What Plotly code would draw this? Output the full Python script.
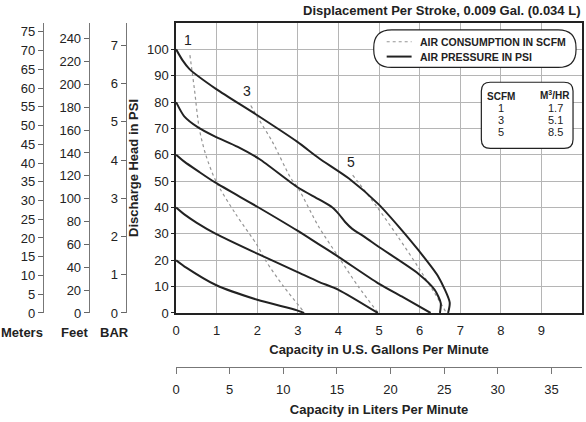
import plotly.graph_objects as go

# pump curves (x = US gal/min, y = psi)
p100_x = [0, 0.16, 0.33, 0.98, 2.0, 2.98, 3.52, 4.25, 4.99, 5.5, 5.96, 6.45, 6.74, 6.7]
p100_y = [100, 95.8, 92.5, 85, 75, 65, 58.7, 51.1, 41.2, 32.5, 24, 14, 4, 0]
p80_x = [0, 0.2, 0.54, 0.95, 1.52, 2.05, 3.0, 3.52, 3.85, 4.01, 4.17, 4.34, 4.66,
         4.98, 5.96, 6.37, 6.52, 6.5]
p80_y = [80, 74.6, 70.4, 67, 63, 58.4, 47.6, 43.1, 40, 37.5, 34.4, 31.9, 28.7,
         25.2, 15, 8.8, 3.75, 0]
p60_x = [0, 0.21, 0.54, 0.95, 2.0, 2.98, 3.5, 4.0, 4.98, 5.6, 6.27]
p60_y = [60, 57.3, 53.8, 49.6, 40.3, 31.3, 26.2, 21.3, 11.25, 5.9, 0]
p40_x = [0, 0.22, 0.5, 0.98, 2.0, 2.98, 3.5, 4.0, 4.97]
p40_y = [40, 37.2, 34.3, 30, 22.5, 15.6, 11.9, 8.8, 0]
p20_x = [0, 0.25, 0.98, 2.0, 2.98, 3.15]
p20_y = [20, 17.2, 10.6, 5, 1, 0]

# air consumption (SCFM) lines
a1_x = [0.34, 0.45, 0.57, 0.73, 0.98, 1.47, 2.0, 2.2, 2.65, 3.17]
a1_y = [97.8, 85, 70, 60, 50, 37.5, 25.6, 20, 10, 0]
a3_x = [1.84, 2.0, 2.37, 2.82, 3.02, 3.51, 4.0, 4.49, 4.98]
a3_y = [78.7, 74.4, 65, 51.3, 47, 32.8, 21.3, 10, 0]
a5_x = [4.35, 4.94, 5.47, 5.96, 6.37, 6.66]
a5_y = [52.3, 40.4, 28.8, 17.5, 7.5, 0]

scfm = ["1", "3", "5"]
m3hr = ["1.7", "5.1", "8.5"]

PSI_MAX = 110
GPM_MAX = 10
PSI_TO_M = 0.70307
PSI_TO_FT = 2.3067
PSI_TO_BAR = 0.068948
GAL_TO_L = 3.78541

FONT = "Liberation Sans, Arial, sans-serif"
INK = "#222222"
W, H = 586, 422
ML, MR, MT, MB = 10, 2, 23, 5
PW, PH = W - ML - MR, H - MT - MB

# pixel helpers (layout only)
def fx(px):
    return (px - ML) / PW

def fy(py):
    return (H - MB - py) / PH

X0, X1 = 176.7, 584
Y0, Y1 = 316.7, 23

def dx(px):
    return (px - X0) / (X1 - X0) * GPM_MAX

def dy(py):
    return (Y0 - py) / (Y0 - Y1) * PSI_MAX

def rounded(x0, y0, x1, y1, r):
    pts = [
        ("M", x0 + r, y0), ("L", x1 - r, y0), ("Q", x1, y0, x1, y0 + r),
        ("L", x1, y1 - r), ("Q", x1, y1, x1 - r, y1), ("L", x0 + r, y1),
        ("Q", x0, y1, x0, y1 - r), ("L", x0, y0 + r), ("Q", x0, y0, x0 + r, y0),
    ]
    out = ""
    for p in pts:
        if p[0] == "Q":
            out += "Q{},{} {},{} ".format(dx(p[1]), dy(p[2]), dx(p[3]), dy(p[4]))
        else:
            out += "{}{},{} ".format(p[0], dx(p[1]), dy(p[2]))
    return out + "Z"

fig = go.Figure()

for xs, ys in [(a1_x, a1_y), (a3_x, a3_y), (a5_x, a5_y)]:
    fig.add_trace(go.Scatter(
        x=xs, y=ys, mode="lines", line=dict(color="#959595", width=1.2, dash="dot",
                                            shape="spline", smoothing=0.8),
        hoverinfo="skip", showlegend=False))

for xs, ys in [(p100_x, p100_y), (p80_x, p80_y), (p60_x, p60_y), (p40_x, p40_y), (p20_x, p20_y)]:
    fig.add_trace(go.Scatter(
        x=xs, y=ys, mode="lines", line=dict(color=INK, width=2, shape="spline", smoothing=0.7),
        hoverinfo="skip", showlegend=False))

# invisible copies so the secondary scales get drawn
fig.add_trace(go.Scatter(x=p100_x, y=[v * PSI_TO_M for v in p100_y], yaxis="y2",
                         mode="lines", opacity=0, hoverinfo="skip", showlegend=False))
fig.add_trace(go.Scatter(x=p100_x, y=[v * PSI_TO_FT for v in p100_y], yaxis="y3",
                         mode="lines", opacity=0, hoverinfo="skip", showlegend=False))
fig.add_trace(go.Scatter(x=p100_x, y=[v * PSI_TO_BAR for v in p100_y], yaxis="y4",
                         mode="lines", opacity=0, hoverinfo="skip", showlegend=False))
fig.add_trace(go.Scatter(x=[v * GAL_TO_L for v in p100_x], y=p100_y, xaxis="x2",
                         mode="lines", opacity=0, hoverinfo="skip", showlegend=False))

xdom = [fx(X0), 1]
ydom = [fy(Y0), 1]
tickfont = dict(family=FONT, size=13, color=INK)
titlefont = dict(family=FONT, size=13, color=INK)
side_axis = dict(overlaying="y", anchor="free", side="left", domain=ydom, showgrid=False,
                 zeroline=False, showline=True, linecolor="#777", linewidth=1,
                 ticks="outside", ticklen=5, tickcolor="#666", tickfont=tickfont)

fig.update_layout(
    width=W, height=H,
    margin=dict(l=ML, r=MR, t=MT, b=MB),
    paper_bgcolor="white", plot_bgcolor="white",
    font=dict(family=FONT, color=INK),
    xaxis=dict(domain=xdom, range=[0, GPM_MAX], tickvals=list(range(10)),
               showgrid=True, gridcolor="#b5b5b5", gridwidth=1, zeroline=False,
               showline=True, mirror=True, linecolor=INK, linewidth=1.5,
               ticks="", tickfont=tickfont, ticklabelstandoff=5,
               title=dict(text="<b>Capacity in U.S. Gallons Per Minute</b>",
                          font=titlefont, standoff=8)),
    yaxis=dict(domain=ydom, range=[0, PSI_MAX], tickvals=list(range(0, 101, 10)),
               showgrid=True, gridcolor="#b5b5b5", gridwidth=1, zeroline=False,
               showline=True, mirror=True, linecolor=INK, linewidth=1.5,
               ticks="outside", ticklen=3, tickcolor=INK, tickfont=tickfont,
               title=dict(text="<b>Discharge Head in PSI</b>", font=titlefont, standoff=6)),
    yaxis2=dict(side_axis, position=fx(43), range=[0, PSI_MAX * PSI_TO_M], dtick=5),
    yaxis3=dict(side_axis, position=fx(89), range=[0, PSI_MAX * PSI_TO_FT], dtick=20),
    yaxis4=dict(side_axis, position=fx(126), range=[0, PSI_MAX * PSI_TO_BAR], dtick=1),
    xaxis2=dict(overlaying="x", anchor="free", position=fy(371), side="bottom",
                domain=xdom, range=[0, GPM_MAX * GAL_TO_L], dtick=5,
                showgrid=False, zeroline=False, showline=True, linecolor="#777", linewidth=1,
                ticks="outside", ticklen=6, tickcolor="#777", tickfont=tickfont,
                ticklabelstandoff=5,
                title=dict(text="<b>Capacity in Liters Per Minute</b>",
                           font=titlefont, standoff=8)),
)

ann = [
    dict(text="<b>Displacement Per Stroke, 0.009 Gal. (0.034 L)</b>", xref="paper", yref="paper",
         x=1, y=fy(10), xanchor="right", size=13),
    dict(text="<b>Meters</b>", xref="paper", yref="paper", x=fx(22), y=fy(336), size=13),
    dict(text="<b>Feet</b>", xref="paper", yref="paper", x=fx(75), y=fy(336), size=13),
    dict(text="<b>BAR</b>", xref="paper", yref="paper", x=fx(115), y=fy(336), size=13),
    dict(text="1", x=dx(188.3), y=dy(40), size=14),
    dict(text="3", x=dx(248.3), y=dy(91.7), size=14),
    dict(text="5", x=dx(351.7), y=dy(163.3), size=14),
    dict(text="<b>AIR CONSUMPTION IN SCFM</b>", x=dx(419), y=dy(42), xanchor="left", size=10.5),
    dict(text="<b>AIR PRESSURE IN PSI</b>", x=dx(419), y=dy(57), xanchor="left", size=10.5),
    dict(text="<b>SCFM</b>", x=dx(503), y=dy(97), size=10),
    dict(text="<b>M<sup>3</sup>/HR</b>", x=dx(557), y=dy(96), size=10),
]
row_y = [109, 121, 133]
for s, m, ry in zip(scfm, m3hr, row_y):
    ann.append(dict(text=s, x=dx(503), y=dy(ry), size=11))
    ann.append(dict(text=m, x=dx(557), y=dy(ry), size=11))

for a in ann:
    size = a.pop("size")
    a.setdefault("xref", "x")
    a.setdefault("yref", "y")
    a.setdefault("xanchor", "center")
    a.setdefault("yanchor", "middle")
    fig.add_annotation(**a, showarrow=False, font=dict(family=FONT, size=size, color=INK))

fig.add_shape(type="path", path=rounded(375, 30, 578, 68, 18), xref="x", yref="y",
              line=dict(color=INK, width=1.2), fillcolor="white", layer="above")
fig.add_shape(type="path", path=rounded(483, 83, 575, 150, 9), xref="x", yref="y",
              line=dict(color=INK, width=1.2), fillcolor="white", layer="above")
fig.add_shape(type="line", x0=dx(388), x1=dx(413), y0=dy(42), y1=dy(42), xref="x", yref="y",
              line=dict(color="#959595", width=1.2, dash="dot"), layer="above")
fig.add_shape(type="line", x0=dx(388), x1=dx(413), y0=dy(57), y1=dy(57), xref="x", yref="y",
              line=dict(color=INK, width=2), layer="above")

# drop the default page margin so the figure sits at the window's top-left corner
fig.write_html("out.html", config={"displayModeBar": False},
               post_script="document.body.style.margin='0';")
